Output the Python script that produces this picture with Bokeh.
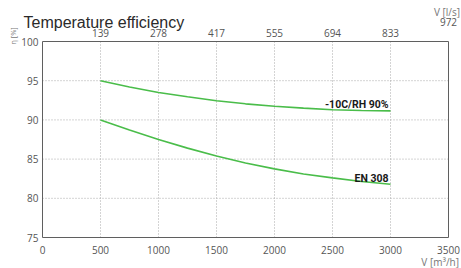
import math
from bokeh.plotting import figure
from bokeh.models import Range1d, LinearAxis, FixedTicker, Label
from bokeh.embed import file_html
from bokeh.resources import INLINE

# ---- data ----
flow_m3h = [500, 750, 1000, 1250, 1500, 1750, 2000, 2250, 2500, 2750, 3000]
eta_cold = [95.0, 94.2, 93.5, 92.95, 92.45, 92.05, 91.75, 91.5, 91.3, 91.2, 91.15]
eta_en308 = [90.0, 88.7, 87.5, 86.4, 85.4, 84.5, 83.75, 83.1, 82.6, 82.15, 81.8]
series_names = ["-10C/RH 90%", "EN 308"]

x_ticks = [0, 500, 1000, 1500, 2000, 2500, 3000, 3500]
y_ticks = [75, 80, 85, 90, 95, 100]
top_ticks = [500, 1000, 1500, 2000, 2500, 3000, 3500]
top_labels = ["139", "278", "417", "555", "694", "833", "972"]

title_text = "Temperature efficiency"
y_label = "η [%]"
x_label = "V [m³/h]"
top_label = "V [l/s]"

# ---- layout (pixels inside the canvas) ----
W, H = 461, 268
BOX_L, BOX_R = 42, 448      # where x = 0 and x = 3500 fall
BOX_T, BOX_B = 41, 237      # where y = 100 and y = 75 fall

x0, x1 = x_ticks[0], x_ticks[-1]
y0, y1 = y_ticks[0], y_ticks[-1]
xs = (x1 - x0) / (BOX_R - BOX_L)
ys = (y1 - y0) / (BOX_B - BOX_T)
x_range = Range1d(x0 - BOX_L * xs, x1 + (W - BOX_R) * xs)
y_range = Range1d(y0 - (H - BOX_B) * ys, y1 + BOX_T * ys)

GREEN = "#4abd4a"
TICK_FONT = "Open Sans"
TICK_COLOR = "#555555"
CAPTION_COLOR = "#777777"
FRAME_COLOR = "#5f5f5f"

p = figure(width=W, height=H, output_backend="svg", toolbar_location=None,
           x_range=x_range, y_range=y_range,
           min_border_left=0, min_border_right=0, min_border_top=0, min_border_bottom=0)
p.background_fill_color = "white"
p.border_fill_color = "white"
p.outline_line_color = None
p.xgrid.visible = False
p.ygrid.visible = False

def style_axis(ax, standoff):
    ax.major_tick_in = 0
    ax.major_tick_out = 0
    ax.minor_tick_in = 0
    ax.minor_tick_out = 0
    ax.axis_line_color = FRAME_COLOR
    ax.axis_line_width = 1
    ax.major_label_text_font = TICK_FONT
    ax.major_label_text_font_size = "10px"
    ax.major_label_text_color = TICK_COLOR
    ax.major_label_standoff = standoff

# bottom axis (m3/h)
bx = p.xaxis[0]
bx.ticker = FixedTicker(ticks=x_ticks)
bx.fixed_location = y0
bx.bounds = (x0, x1)
style_axis(bx, 8)

# left axis (%)
ly = p.yaxis[0]
ly.ticker = FixedTicker(ticks=y_ticks)
ly.fixed_location = x0
ly.bounds = (y0, y1)
style_axis(ly, 4)

# top axis (l/s)
top_ax = LinearAxis(ticker=FixedTicker(ticks=top_ticks[:-1]),
                    major_label_overrides={t: l for t, l in zip(top_ticks[:-1], top_labels[:-1])},
                    fixed_location=y1, bounds=(x0, x1))
style_axis(top_ax, 5)
p.add_layout(top_ax, "above")

# right frame edge
right_ax = LinearAxis(ticker=FixedTicker(ticks=[]), fixed_location=x1, bounds=(y0, y1))
style_axis(right_ax, 4)
p.add_layout(right_ax, "right")

# dotted grid from the tick lists
gx = x_ticks[1:-1]
gy = y_ticks[1:-1]
p.segment(x0=gx, y0=[y0] * len(gx), x1=gx, y1=[y1] * len(gx),
          line_color="#a8a8a8", line_dash="1 2", line_width=1)
p.segment(x0=[x0] * len(gy), y0=gy, x1=[x1] * len(gy), y1=gy,
          line_color="#a8a8a8", line_dash="1 2", line_width=1)

# curves
p.line(flow_m3h, eta_cold, line_color=GREEN, line_width=1.6)
p.line(flow_m3h, eta_en308, line_color=GREEN, line_width=1.6)

for yv, name in zip([eta_cold, eta_en308], series_names):
    p.add_layout(Label(x=flow_m3h[-1], y=yv[-1], text=name, text_align="right",
                       text_baseline="alphabetic", x_offset=-2, y_offset=6,
                       text_font="Roboto", text_font_style="bold",
                       text_font_size="10.5px", text_color="#1a1a1a"))

# title and axis captions (screen units: from canvas left / bottom)
p.add_layout(Label(x=23, y=H - 22, x_units="screen", y_units="screen", text=title_text,
                   text_font="Liberation Sans", text_font_size="16px",
                   text_color="#2a2a2a", text_baseline="alphabetic"))
p.add_layout(Label(x=12.5, y=H - 35.5, x_units="screen", y_units="screen", text=y_label,
                   angle=math.pi / 2, text_align="center", text_baseline="middle",
                   text_font=TICK_FONT, text_font_size="7.5px", text_color=CAPTION_COLOR))
p.add_layout(Label(x=459.5, y=H - 11.5, x_units="screen", y_units="screen", text=top_label,
                   text_align="right", text_baseline="alphabetic",
                   text_font=TICK_FONT, text_font_size="10px", text_color=CAPTION_COLOR))
p.add_layout(Label(x=top_ticks[-1], y=H - 21, x_units="data", y_units="screen",
                   text=top_labels[-1], text_align="center", text_baseline="alphabetic",
                   text_font=TICK_FONT, text_font_size="10px", text_color=TICK_COLOR))
p.add_layout(Label(x=458.5, y=H - 261, x_units="screen", y_units="screen", text=x_label,
                   text_align="right", text_baseline="alphabetic",
                   text_font=TICK_FONT, text_font_size="10px", text_color=CAPTION_COLOR))

open("out.html", "w").write(file_html(p, INLINE))
